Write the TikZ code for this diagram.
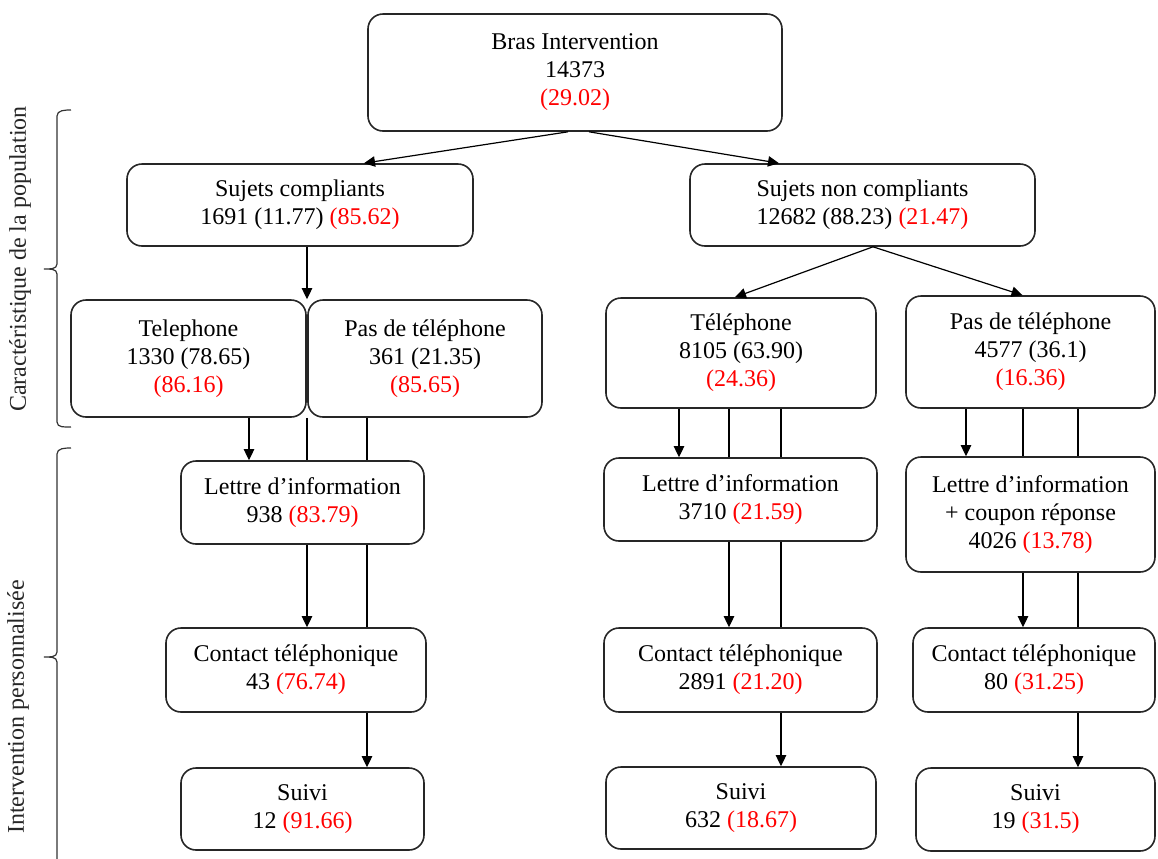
\documentclass[tikz,border=0pt]{standalone}
\usepackage{fontspec}
\setmainfont{Liberation Serif}
\usepackage{xcolor}
\usepackage{tikz}
\usetikzlibrary{positioning}
\usetikzlibrary{arrows.meta, calc}
\def\rouge(#1){\textcolor{red}{(#1)}}
\tikzstyle{boite} = [draw=black!85, line width=0.8pt, rounded corners=7.5pt, align=center, inner sep=0pt, font=\fontsize{12}{14}\selectfont]
\tikzstyle{arrow} = [line width=0.6pt, -{Triangle[length=5.5pt,width=5.2pt]}]
\tikzstyle{ligne} = [line width=0.6pt]

\begin{document}
\begin{tikzpicture}[x=1pt,y=-1pt]
      \useasboundingbox (0,0) rectangle (579,429);
      \clip (0,0) rectangle (579,429);
      %%%%%%%%%%%%%%%%%%%%%%%%%%%%%%%%%%%%%%%
      \draw (287.5,36.25) node (bras) [boite, minimum width=207pt, minimum height=58.5pt] {Bras Intervention\\14373\\\rouge(29.02)};
      \draw (150,102.5) node (comp) [boite, minimum width=173pt, minimum height=41pt] {Sujets compliants\\1691 (11.77) \rouge(85.62)};
      \draw (431.25,102.5) node (ncomp) [boite, minimum width=172.5pt, minimum height=41pt] {Sujets non compliants\\12682 (88.23) \rouge(21.47)};
      \draw (94.25,179.25) node (tel1) [boite, minimum width=117.5pt, minimum height=58.5pt] {Telephone\\1330 (78.65)\\\rouge(86.16)};
      \draw (212.5,179.25) node (pas1) [boite, minimum width=117pt, minimum height=58.5pt] {Pas de téléphone\\361 (21.35)\\\rouge(85.65)};
      \draw (370.5,176.5) node (tel2) [boite, minimum width=135pt, minimum height=55pt] {Téléphone\\8105 (63.90)\\\rouge(24.36)};
      \draw (515.25,176) node (pas2) [boite, minimum width=124.5pt, minimum height=56pt] {Pas de téléphone\\4577 (36.1)\\\rouge(16.36)};
      \draw (151.25,251.25) node (let1) [boite, minimum width=121.5pt, minimum height=41.5pt] {Lettre d'information\\938 \rouge(83.79)};
      \draw (370.25,249.75) node (let2) [boite, minimum width=136.5pt, minimum height=41.5pt] {Lettre d'information\\3710 \rouge(21.59)};
      \draw (515.25,257.25) node (let3) [boite, minimum width=124.5pt, minimum height=57.5pt] {Lettre d'information\\+ coupon réponse\\4026 \rouge(13.78)};
      \draw (148,335) node (con1) [boite, minimum width=130pt, minimum height=42pt] {Contact téléphonique\\43 \rouge(76.74)};
      \draw (370.25,335) node (con2) [boite, minimum width=136.5pt, minimum height=42pt] {Contact téléphonique\\2891 \rouge(21.20)};
      \draw (517,335) node (con3) [boite, minimum width=121pt, minimum height=42pt] {Contact téléphonique\\80 \rouge(31.25)};
      \draw (151.25,404.5) node (sui1) [boite, minimum width=121.5pt, minimum height=41pt] {Suivi\\12 \rouge(91.66)};
      \draw (370.5,404) node (sui2) [boite, minimum width=135pt, minimum height=41pt] {Suivi\\632 \rouge(18.67)};
      \draw (517.75,404.75) node (sui3) [boite, minimum width=119.5pt, minimum height=41.5pt] {Suivi\\19 \rouge(31.5)};
      % colonnes des fleches
      \coordinate (c1) at (124.5,0);
      \coordinate (c2) at (153.5,0);
      \coordinate (c3) at (183.5,0);
      \coordinate (c4) at (339.5,0);
      \coordinate (c5) at (364.5,0);
      \coordinate (c6) at (390.5,0);
      \coordinate (c7) at (483,0);
      \coordinate (c8) at (511.5,0);
      \coordinate (c9) at (539,0);
      % haut
      \draw[arrow] ([xshift=-3.5pt]bras.south)--([xshift=32pt]comp.north);
      \draw[arrow] ([xshift=7pt]bras.south)--([xshift=-41.75pt]ncomp.north);
      \draw[arrow] (comp.south -| c2)--(tel1.north -| c2);
      \draw[arrow] ([xshift=5.25pt]ncomp.south)--([xshift=-3pt]tel2.north);
      \draw[arrow] ([xshift=5.25pt]ncomp.south)--([xshift=-4pt]pas2.north);
      % compliants
      \draw[arrow] (tel1.south -| c1)--(let1.north -| c1);
      \draw[ligne] (tel1.south -| c2)--(let1.north -| c2);
      \draw[arrow] (let1.south -| c2)--(con1.north -| c2);
      \draw[ligne] (pas1.south -| c3)--(let1.north -| c3);
      \draw[ligne] (let1.south -| c3)--(con1.north -| c3);
      \draw[arrow] (con1.south -| c3)--(sui1.north -| c3);
      % non compliants, telephone
      \draw[arrow] (tel2.south -| c4)--(let2.north -| c4);
      \draw[ligne] (tel2.south -| c5)--(let2.north -| c5);
      \draw[arrow] (let2.south -| c5)--(con2.north -| c5);
      \draw[ligne] (tel2.south -| c6)--(let2.north -| c6);
      \draw[ligne] (let2.south -| c6)--(con2.north -| c6);
      \draw[arrow] (con2.south -| c6)--(sui2.north -| c6);
      % non compliants, pas de telephone
      \draw[arrow] (pas2.south -| c7)--(let3.north -| c7);
      \draw[ligne] (pas2.south -| c8)--(let3.north -| c8);
      \draw[arrow] (let3.south -| c8)--(con3.north -| c8);
      \draw[ligne] (pas2.south -| c9)--(let3.north -| c9);
      \draw[ligne] (let3.south -| c9)--(con3.north -| c9);
      \draw[arrow] (con3.south -| c9)--(sui3.north -| c9);
      % accolades
      \draw[ligne, black!80] (35.5,55) to[out=180,in=90] (28.5,58) -- (28.5,132) to[out=-90,in=0] (22,134.5) to[out=0,in=90] (28.5,137) -- (28.5,211) to[out=-90,in=180] (35.5,213.5);
      \draw[ligne, black!80] (35.5,224) to[out=180,in=90] (28.5,227) -- (28.5,326) to[out=-90,in=0] (22,328.5) to[out=0,in=90] (28.5,331) -- (28.5,430) to[out=-90,in=180] (35.5,433);
      \node (carac) at (10,129.5) [rotate=90, black!85, font=\fontsize{12}{14}\selectfont] {Caractéristique de la population};
      \node (inter) at (9,353.5) [rotate=90, black!85, font=\fontsize{12}{14}\selectfont] {Intervention personnalisée};
      \end{tikzpicture}
\end{document}
